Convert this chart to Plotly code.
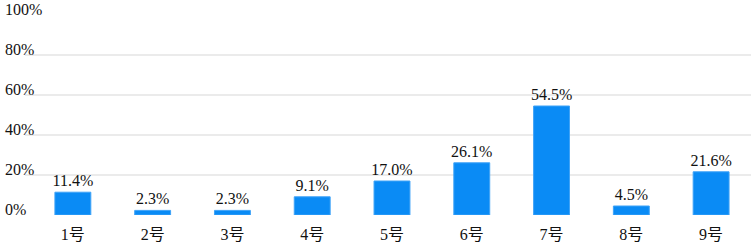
import plotly.graph_objects as go

categories = ["1号", "2号", "3号", "4号", "5号", "6号", "7号", "8号", "9号"]
values = [11.4, 2.3, 2.3, 9.1, 17.0, 26.1, 54.5, 4.5, 21.6]
y_ticks = [0, 20, 40, 60, 80, 100]

serif = "Liberation Serif, Times New Roman, Noto Sans CJK SC, serif"

fig = go.Figure(go.Bar(
    x=categories,
    y=values,
    text=[f"{v:.1f}%" for v in values],
    textposition="outside",
    constraintext="none",
    textfont=dict(family=serif, size=16, color="#111111"),
    marker=dict(color="#0A8BF5", line=dict(color="#3FA3F7", width=1)),
    width=0.45,
    cliponaxis=False,
))

fig.update_layout(
    width=751,
    height=242,
    margin=dict(l=25, r=0, t=15, b=27, autoexpand=False),
    paper_bgcolor="white",
    plot_bgcolor="white",
    showlegend=False,
    xaxis=dict(
        range=[-0.6, 8.5],
        automargin=False,
        showgrid=False,
        zeroline=False,
        showline=False,
        ticks="",
        ticklabelstandoff=8,
        tickfont=dict(family=serif, size=16, color="#111111"),
    ),
    yaxis=dict(
        range=[0, 100],
        automargin=False,
        tickvals=y_ticks,
        ticktext=[f"{t}%" for t in y_ticks],
        showgrid=True,
        gridcolor="#EBEBEB",
        gridwidth=2,
        zeroline=False,
        showline=False,
        ticks="",
        ticklabelposition="inside",
        ticklabeloverflow="allow",
        ticklabelshift=-6,
        ticklabelstandoff=-23,
        tickfont=dict(family=serif, size=16, color="#111111"),
    ),
)

fig.write_html(
    "out.html",
    config={"displayModeBar": False},
    post_script="document.body.style.margin='0';document.body.style.overflow='hidden';",
)
